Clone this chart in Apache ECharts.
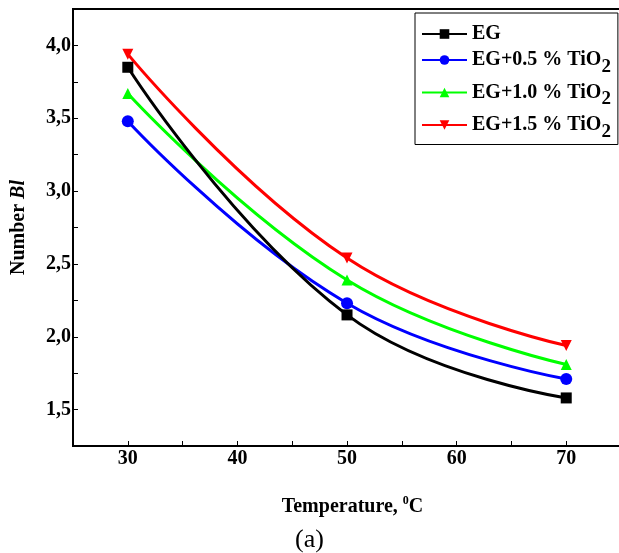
<!DOCTYPE html>
<html>
<head>
<meta charset="utf-8">
<script src="https://cdn.jsdelivr.net/npm/echarts@6/dist/echarts.min.js"></script>
<style>
  html, body { margin: 0; padding: 0; background: #fff; }
  #chart { width: 619px; height: 553px; }
</style>
</head>
<body>
<div id="chart"></div>
<script>
// данные с рисунка
var temps = [30, 50, 70];
var names = ['EG', 'EG+0.5 % TiO2', 'EG+1.0 % TiO2', 'EG+1.5 % TiO2'];
var eg = [3.85, 2.15, 1.58];
var eg05 = [3.48, 2.23, 1.71];
var eg10 = [3.67, 2.39, 1.81];
var eg15 = [3.94, 2.54, 1.94];
var colors = ['#000000', '#0000ff', '#00ff00', '#ff0000'];
var symbols = ['rect', 'circle', 'triangle', 'path://M0,0 L10,0 L5,10 Z'];

var font = 'Liberation Serif';

function pairs(vals) {
    var out = [];
    for (var i = 0; i < temps.length; i++) {
        out.push([temps[i], vals[i]]);
    }
    return out;
}

var allVals = [eg, eg05, eg10, eg15];
var series = [];
for (var k = 0; k < names.length; k++) {
    series.push({
        name: names[k],
        type: 'line',
        data: pairs(allVals[k]),
        smooth: 0.45,
        symbol: symbols[k],
        symbolSize: k == 1 ? 12 : 11,
        lineStyle: { color: colors[k], width: 3 },
        itemStyle: { color: colors[k] },
        z: 10 - k
    });
}

var myChart = echarts.init(document.getElementById('chart'));
var option = {
    backgroundColor: '#fff',
    animation: false,
    title: {
        text: '(a)',
        left: 'center',
        top: 522,
        textStyle: { fontFamily: font, fontWeight: 'normal', fontSize: 26, color: '#000' }
    },
    legend: {
        orient: 'vertical',
        left: 415,
        top: 13,
        backgroundColor: '#fff',
        borderColor: '#000',
        borderWidth: 1,
        borderRadius: 0,
        padding: [11, 7, 3, 6],
        itemGap: 6,
        itemWidth: 45,
        itemHeight: 12,
        data: names,
        formatter: function(name) {
            if (name.indexOf('TiO2') > -1) {
                return '{t|' + name.replace('TiO2', 'TiO') + '}{sub|2}';
            }
            return '{t|' + name + '}';
        },
        textStyle: {
            fontFamily: font,
            fontWeight: 'bold',
            fontSize: 20,
            color: '#000',
            rich: {
                t: { fontFamily: font, fontWeight: 'bold', fontSize: 20, color: '#000' },
                sub: { fontFamily: font, fontWeight: 'bold', fontSize: 19, color: '#000', padding: [14, 0, 0, 0] }
            }
        }
    },
    grid: {
        left: 73,
        right: -13,
        top: 9,
        bottom: 107,
        show: true,
        borderColor: '#000',
        borderWidth: 2,
        containLabel: false,
        outerBoundsMode: 'none'
    },
    xAxis: {
        type: 'value',
        min: 25,
        max: 76,
        interval: 5,
        name: '{b|Temperature, }{sup|0}{b|C}',
        nameLocation: 'middle',
        nameGap: 49,
        nameTextStyle: {
            rich: {
                b: { fontFamily: font, fontWeight: 'bold', fontSize: 20, color: '#000' },
                sup: { fontFamily: font, fontWeight: 'bold', fontSize: 12, color: '#000', padding: [0, 0, 11, 0] }
            }
        },
        splitLine: { show: false },
        axisLine: { lineStyle: { color: '#000', width: 2 } },
        axisTick: { inside: true, length: 5, lineStyle: { color: '#000', width: 1 } },
        axisLabel: {
            fontFamily: font,
            fontWeight: 'bold',
            fontSize: 20,
            color: '#000',
            margin: 3,
            formatter: function(v) {
                return v % 10 == 0 && v >= 30 && v <= 70 ? String(v) : '';
            }
        }
    },
    yAxis: {
        type: 'value',
        min: 1.25,
        max: 4.25,
        interval: 0.25,
        name: '{b|Number }{i|Bl}',
        nameLocation: 'middle',
        nameGap: 44,
        nameTextStyle: {
            rich: {
                b: { fontFamily: font, fontWeight: 'bold', fontSize: 20, color: '#000' },
                i: { fontFamily: font, fontWeight: 'bold', fontStyle: 'italic', fontSize: 20, color: '#000' }
            }
        },
        splitLine: { show: false },
        axisLine: { lineStyle: { color: '#000', width: 2 } },
        axisTick: { inside: true, length: 5, lineStyle: { color: '#000', width: 1 } },
        axisLabel: {
            fontFamily: font,
            fontWeight: 'bold',
            fontSize: 20,
            color: '#000',
            margin: 2,
            formatter: function(v) {
                var r = Math.round(v * 100);
                if (r % 50 != 0 || r < 150 || r > 400) return '';
                return v.toFixed(1).replace('.', ',');
            }
        }
    },
    series: series
};
myChart.setOption(option);
</script>
</body>
</html>
